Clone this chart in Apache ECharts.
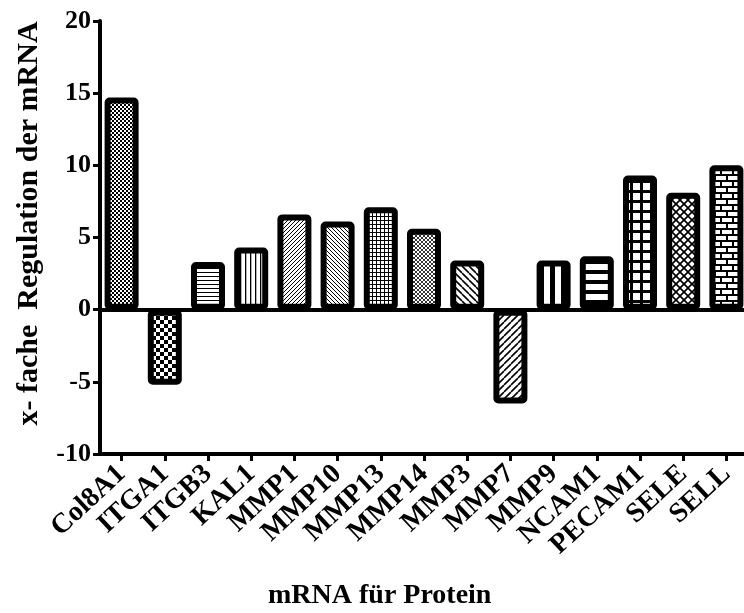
<!DOCTYPE html>
<html>
<head>
<meta charset="utf-8">
<style>
  html, body { margin: 0; padding: 0; background: #fff; }
  #chart { width: 744px; height: 613px; }
</style>
<script src="https://cdn.jsdelivr.net/npm/echarts@6/dist/echarts.min.js"></script>
</head>
<body>
<div id="chart"></div>
<script>
// mRNA categories and fold regulation values
const categories = ["Col8A1", "ITGA1", "ITGB3", "KAL1", "MMP1", "MMP10", "MMP13", "MMP14",
  "MMP3", "MMP7", "MMP9", "NCAM1", "PECAM1", "SELE", "SELL"];
const regulation = [14.7, -5.2, 3.3, 4.3, 6.6, 6.1, 7.1, 5.6, 3.4, -6.5, 3.4, 3.7, 9.3, 8.1, 10.0];
const yTicks = [-10, -5, 0, 5, 10, 15, 20];

const FONT = "Liberation Serif";

// fill patterns (one per bar, same order as categories)
const patternKinds = ["fineChecker", "checker", "hlines", "vlines", "diagFine", "diagFineBack",
  "grid", "crossFine", "diagBack", "diag", "thickV", "thickH", "bigGrid", "diamond", "brick"];

function tile(w, h, draw) {
  const c = document.createElement("canvas");
  c.width = w;
  c.height = h;
  const g = c.getContext("2d");
  g.fillStyle = "#fff";
  g.fillRect(0, 0, w, h);
  g.fillStyle = "#000";
  g.strokeStyle = "#000";
  draw(g, w, h);
  return { image: c, repeat: "repeat" };
}

function diag(g, s, lw, back) {
  g.lineWidth = lw;
  g.beginPath();
  for (const o of [-s, 0, s]) {
    if (!back) {
      g.moveTo(o, s);
      g.lineTo(o + s, 0);
    } else {
      g.moveTo(o, 0);
      g.lineTo(o + s, s);
    }
  }
  g.stroke();
}

function makePattern(kind) {
  switch (kind) {
    case "fineChecker":
      return tile(4, 4, (g) => { g.fillRect(0, 0, 2, 2); g.fillRect(2, 2, 2, 2); });
    case "checker":
      return tile(8, 8, (g) => { g.fillRect(0, 0, 4, 4); g.fillRect(4, 4, 4, 4); });
    case "hlines":
      return tile(4, 4, (g) => g.fillRect(0, 0, 4, 1));
    case "vlines":
      return tile(5, 5, (g) => g.fillRect(0, 0, 1.3, 5));
    case "diagFine":
      return tile(4, 4, (g) => diag(g, 4, 1, false));
    case "diagFineBack":
      return tile(4, 4, (g) => diag(g, 4, 1, true));
    case "grid":
      return tile(4, 4, (g) => { g.fillRect(0, 0, 4, 1); g.fillRect(0, 0, 1, 4); });
    case "crossFine":
      return tile(4, 4, (g) => { diag(g, 4, 0.8, false); diag(g, 4, 0.8, true); });
    case "diagBack":
      return tile(7, 7, (g) => diag(g, 7, 1.6, true));
    case "diag":
      return tile(7, 7, (g) => diag(g, 7, 1.6, false));
    case "thickV":
      return tile(11, 11, (g) => g.fillRect(0, 0, 5, 11));
    case "thickH":
      return tile(10, 10, (g) => g.fillRect(0, 0, 10, 4));
    case "bigGrid":
      return tile(10, 10, (g) => { g.fillRect(0, 0, 10, 3); g.fillRect(0, 0, 3, 10); });
    case "diamond":
      return tile(8, 8, (g) => { diag(g, 8, 1.6, false); diag(g, 8, 1.6, true); });
    case "brick":
      return tile(12, 12, (g) => {
        g.fillRect(0, 0, 12, 2);
        g.fillRect(0, 6, 12, 2);
        g.fillRect(0, 0, 2, 6);
        g.fillRect(6, 6, 2, 6);
      });
  }
  return "#000";
}

const chart = echarts.init(document.getElementById("chart"));

chart.setOption({
  backgroundColor: "#fff",
  animation: false,
  title: {
    text: "mRNA für Protein",
    left: 263,
    top: 577,
    textStyle: { fontFamily: FONT, fontWeight: "bold", fontSize: 28, color: "#000" },
  },
  grid: {
    left: 100,
    right: -4,
    top: 21,
    bottom: 159,
    outerBoundsMode: "none",
  },
  xAxis: [
    {
      type: "category",
      data: categories,
      position: "bottom",
      axisLine: { onZero: false, lineStyle: { color: "#000", width: 4 } },
      axisTick: { show: true, alignWithLabel: true, length: 7, lineStyle: { color: "#000", width: 3 } },
      axisLabel: {
        interval: 0,
        rotate: 43,
        margin: 16,
        color: "#000",
        fontFamily: FONT,
        fontWeight: "bold",
        fontSize: 28,
      },
      splitLine: { show: false },
    },
    {
      // zero line
      type: "category",
      data: categories,
      position: "bottom",
      axisLine: { onZero: true, lineStyle: { color: "#000", width: 4 } },
      axisTick: { show: false },
      axisLabel: { show: false },
      splitLine: { show: false },
    },
  ],
  yAxis: {
    type: "value",
    min: yTicks[0],
    max: yTicks[yTicks.length - 1],
    interval: 5,
    name: "x- fache  Regulation der mRNA",
    nameLocation: "middle",
    nameGap: 56,
    nameTextStyle: {
      fontFamily: FONT,
      fontWeight: "bold",
      fontSize: 30,
      color: "#000",
      padding: [0, 0, 0, 28],
    },
    axisLine: { show: true, lineStyle: { color: "#000", width: 4 } },
    axisTick: { show: true, length: 7, lineStyle: { color: "#000", width: 3 } },
    axisLabel: {
      margin: 9,
      color: "#000",
      fontFamily: FONT,
      fontWeight: "bold",
      fontSize: 26,
    },
    splitLine: { show: false },
  },
  series: [
    {
      type: "bar",
      xAxisIndex: 0,
      barWidth: 34,
      data: regulation.map((v, i) => ({
        value: v,
        itemStyle: {
          color: makePattern(patternKinds[i]),
          borderColor: "#000",
          borderWidth: 6,
          borderRadius: 2,
        },
      })),
    },
  ],
});
</script>
</body>
</html>
